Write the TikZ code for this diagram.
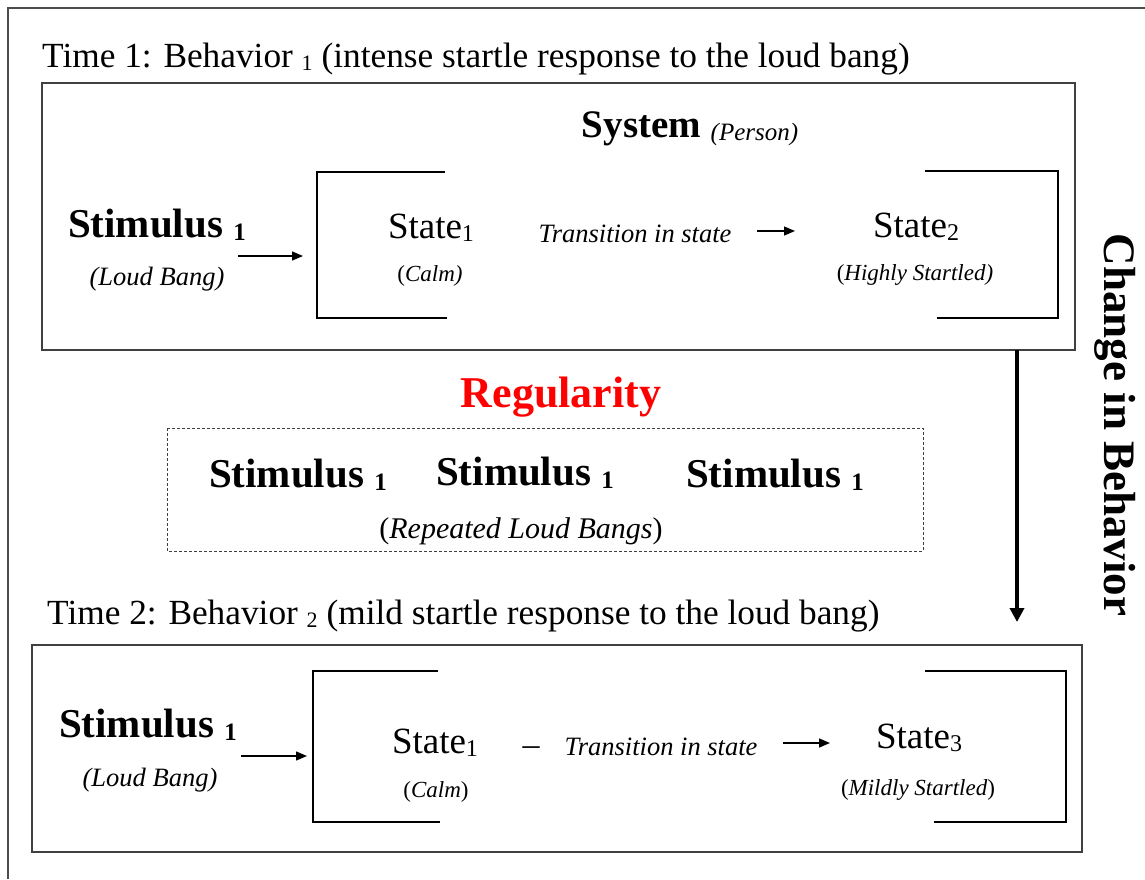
\documentclass[tikz,border=0pt]{standalone}
\usepackage{fontspec}
\setmainfont{Liberation Serif}
\usetikzlibrary{arrows.meta, calc}
\tikzset{
	framebox/.style={draw=black!75, line width=1.3pt},
	bracketline/.style={line width=2.8pt}
}
\tikzset{
	plaintext/.style={inner sep=0pt, anchor=base}
}
\newcommand{\fsz}[1]{\fontsize{#1}{#1}\selectfont}
% small lowered index: size, text
\newcommand{\idx}[2]{\raisebox{-3.5pt}{\fsz{#1}#2}}
\newcommand{\stimtext}{\fsz{41}\textbf{Stimulus \idx{25}{1}}}
% open bracket: top end, corner x, bottom end
\newcommand{\openbrak}[4]{%
  \draw[bracketline] (#1,#3) -| (#2,#4) -- ++(#1-#2+2,0);
}

\begin{document}
\begin{tikzpicture}[x=1pt, y=-1pt, >={Triangle[length=11pt, width=9pt]}]
      \useasboundingbox (0,0) rectangle (1145,879);
      % outer frame, cut off at right and bottom
      \draw[draw=black!70, line width=1.2pt] (8,879) -- (8,8) -- (1145,8);

      % time 1
      \node[plaintext, anchor=base west] (title1) at (42,67) {\fsz{35.3}Time 1: Behavior \idx{22}{1} (intense startle response to the loud bang)};
      \draw[framebox] (42,83) rectangle (1075,350);
      \node[plaintext] (sys) at (690,137) {\fsz{39}\textbf{System} \raisebox{-3pt}{\fsz{25}\itshape (Person)}};
      \openbrak{445}{317}{172}{318}
      \draw[bracketline] (925,171) -| (1058,318) -- (937,318);
      \node[plaintext] (stimA) at (157,237) {\stimtext};
      \node[plaintext] (bangA) at (157,285) {\fsz{26.5}\itshape (Loud Bang)};
      \node[plaintext] (stA) at (431,238) {\fsz{37}State\idx{24}{1}};
      \node[plaintext] (calmA) at (430,281) {\fsz{23}(\textit{Calm)}};
      \node[plaintext] (transA) at (635,242) {\fsz{26.5}\itshape Transition in state};
      \node[plaintext] (stB) at (916,237) {\fsz{37}State\idx{24}{2}};
      \node[plaintext] (highB) at (915,280) {\fsz{23}(\textit{Highly Startled)}};
      \coordinate (inA) at (238,256);
      \coordinate (brA) at (303,256);
      \coordinate (trA) at (757,231);
      \coordinate (toB) at (795,231);
      \draw[line width=1.4pt, ->] (inA) -- (brA);
      \draw[line width=1.4pt, ->] (trA) -- (toB);

      % regularity
      \node[plaintext, text=red] (reg) at (561,407) {\fsz{44}\textbf{Regularity}};
      \draw[draw=black!75, line width=1pt, dash pattern=on 3pt off 2pt] (167,428) rectangle (923,551);
      \foreach \n/\x/\y in {1/298/487, 2/525/485, 3/775/487} {
        \node[plaintext] (rep\n) at (\x,\y) {\stimtext};
      }
      \node[plaintext] (bangs) at (521,538) {\fsz{30}(\textit{Repeated Loud Bangs})};

      % change in behaviour
      \coordinate (chgA) at (1017,350);
      \coordinate (chgB) at (1017,622);
      \draw[line width=4pt, -{Triangle[length=14pt, width=14pt]}] (chgA) -- (chgB);
      \node[rotate=-90, inner sep=0pt] (chg) at (1115,425) {\fsz{45}\textbf{Change in Behavior}};

      % time 2
      \node[plaintext, anchor=base west] (title2) at (47,624) {\fsz{35.3}Time 2: Behavior \idx{22}{2} (mild startle response to the loud bang)};
      \draw[framebox] (32,645) rectangle (1082,852);
      \openbrak{438}{313}{671}{822}
      \draw[bracketline] (925,671) -| (1066,822) -- (934,822);
      \node[plaintext] (stimC) at (148,737) {\stimtext};
      \node[plaintext] (bangC) at (150,786) {\fsz{26.5}\itshape (Loud Bang)};
      \node[plaintext] (stC) at (435,753) {\fsz{37}State\idx{24}{1}};
      \node[plaintext] (calmC) at (436,797) {\fsz{23}(\textit{Calm})};
      \node[plaintext] (dashC) at (531,755) {\fsz{34}–};
      \node[plaintext] (transC) at (661,755) {\fsz{26.5}\itshape Transition in state};
      \node[plaintext] (stD) at (919,748) {\fsz{37}State\idx{24}{3}};
      \node[plaintext] (mildD) at (918,795) {\fsz{23}(\textit{Mildly Startled})};
      \coordinate (inC) at (241,756);
      \coordinate (brC) at (307,756);
      \coordinate (trC) at (783,743);
      \coordinate (toD) at (830,743);
      \draw[line width=1.4pt, ->] (inC) -- (brC);
      \draw[line width=1.4pt, ->] (trC) -- (toD);
    \end{tikzpicture}
\end{document}
